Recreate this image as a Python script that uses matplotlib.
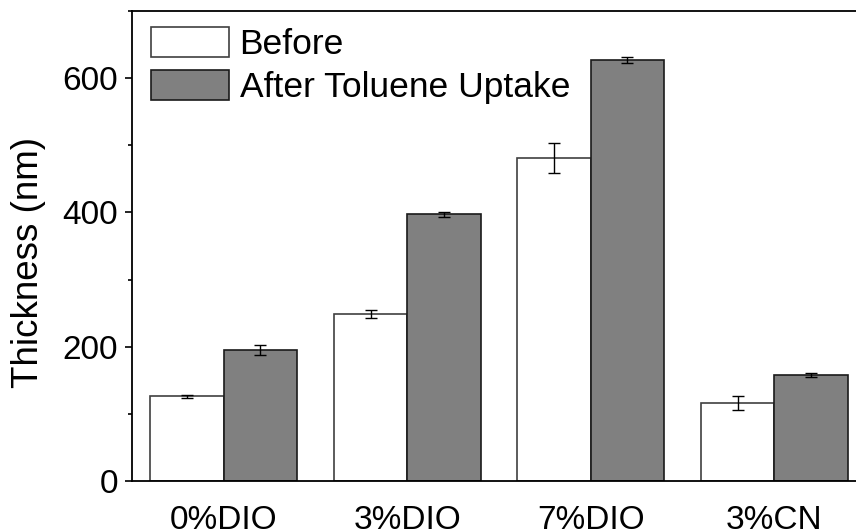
import numpy as np
import matplotlib
matplotlib.use("Agg")
import matplotlib.pyplot as plt
from matplotlib.ticker import MultipleLocator

plt.rcParams['font.family'] = ['Liberation Sans', 'DejaVu Sans']

# thickness data (nm)
samples = ['0%DIO', '3%DIO', '7%DIO', '3%CN']
before = [126, 248, 481, 116]
before_err = [2, 6, 22, 11]
after = [195, 397, 627, 158]
after_err = [8, 4, 4, 2.5]

fig = plt.figure(figsize=(8.56, 5.31), dpi=100)
ax = fig.add_axes([0.1542, 0.0942, 0.8575, 0.8851])

x = np.arange(len(samples))
w = 0.4
err_kw = dict(elinewidth=1, capthick=1, ecolor='black')
ax.bar(x - w / 2, before, w, yerr=before_err, capsize=4, color='white',
       edgecolor='#404040', linewidth=1.2, label='Before', error_kw=err_kw)
ax.bar(x + w / 2, after, w, yerr=after_err, capsize=4, color='#808080',
       edgecolor='#1a1a1a', linewidth=1.2, label='After Toluene Uptake', error_kw=err_kw)

ax.set_xlim(-0.5, 3.5)
ax.set_ylim(0, 700)
ax.set_xticks(x)
ax.set_xticklabels(samples)
ax.yaxis.set_major_locator(MultipleLocator(200))
ax.yaxis.set_minor_locator(MultipleLocator(100))
ax.tick_params(axis='x', length=0, labelsize=24, pad=17)
ax.tick_params(axis='y', which='major', length=5, width=1.2, labelsize=24, pad=5)
ax.tick_params(axis='y', which='minor', length=3, width=1.2)
for s in ax.spines.values():
    s.set_linewidth(1.3)

ax.set_ylabel('Thickness (nm)', fontsize=26.5)
ax.yaxis.set_label_coords(-0.117, 0.464)

ax.legend(loc='upper left', bbox_to_anchor=(0.0259, 0.965), fontsize=25.5,
          frameon=False, handlelength=2.2, handleheight=0.9,
          handletextpad=0.3, labelspacing=0.25,
          borderaxespad=0, borderpad=0)

fig.savefig('out.png', dpi=100)
